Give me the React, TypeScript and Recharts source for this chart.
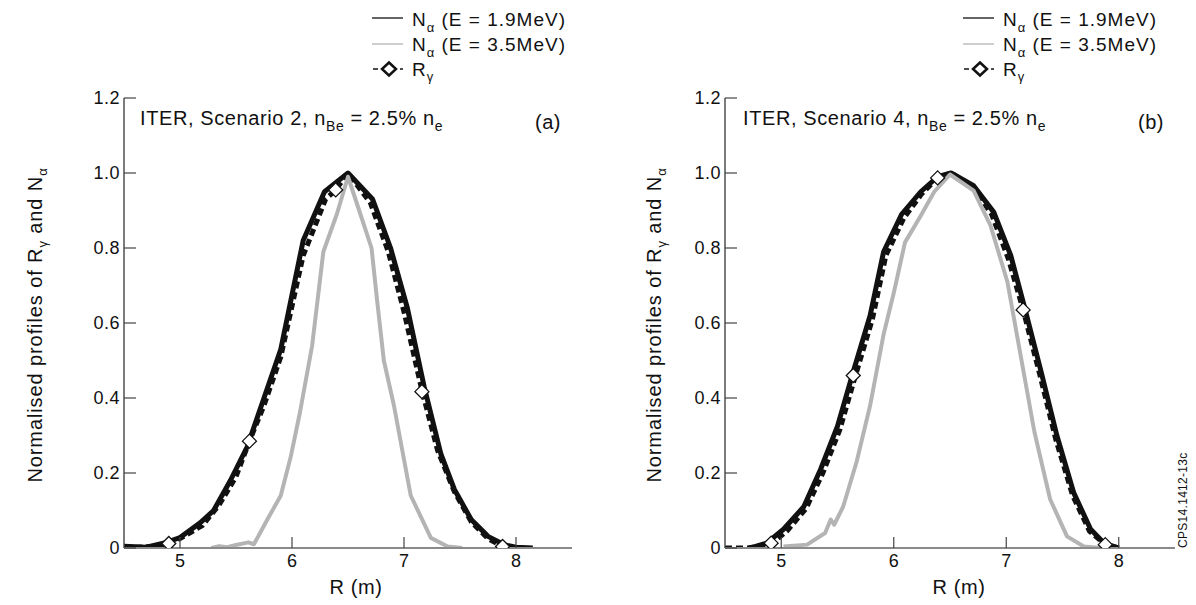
import React from "react";
import { ComposedChart, Line, Scatter, XAxis, YAxis } from "recharts";

// ---------- Panel (a): ITER Scenario 2 ----------
const rA_n19 = [4.5, 4.7, 4.88, 5.0, 5.18, 5.3, 5.45, 5.6, 5.75, 5.9, 6.1, 6.29, 6.5, 6.72, 6.88, 7.03, 7.18, 7.33, 7.45, 7.6, 7.75, 7.9, 8.0, 8.15];
const vA_n19 = [0.005, 0.002, 0.015, 0.028, 0.067, 0.1, 0.18, 0.27, 0.4, 0.53, 0.82, 0.95, 1.0, 0.93, 0.8, 0.64, 0.43, 0.25, 0.156, 0.076, 0.031, 0.008, 0.002, 0.0];

const rA_rg = [4.5, 4.8, 4.9, 5.0, 5.2, 5.35, 5.5, 5.62, 5.75, 5.9, 6.1, 6.3, 6.39, 6.5, 6.7, 6.86, 7.0, 7.16, 7.3, 7.45, 7.6, 7.75, 7.88, 8.0];
const vA_rg = [0.0, 0.005, 0.012, 0.025, 0.06, 0.115, 0.19, 0.285, 0.38, 0.51, 0.78, 0.93, 0.955, 1.0, 0.92, 0.79, 0.63, 0.42, 0.26, 0.15, 0.07, 0.025, 0.004, 0.0];

const rA_n35 = [5.28, 5.35, 5.42, 5.5, 5.61, 5.66, 5.78, 5.9, 5.99, 6.07, 6.18, 6.28, 6.4, 6.5, 6.6, 6.71, 6.76, 6.82, 6.91, 7.06, 7.24, 7.39, 7.52];
const vA_n35 = [0, 0.005, 0.002, 0.008, 0.015, 0.01, 0.076, 0.14, 0.245, 0.36, 0.54, 0.79, 0.89, 0.99, 0.9, 0.8, 0.66, 0.5, 0.38, 0.14, 0.027, 0.004, 0];

const rA_dia = [4.9, 5.62, 6.39, 7.16, 7.88];
const vA_dia = [0.012, 0.285, 0.955, 0.417, 0.004];

// ---------- Panel (b): ITER Scenario 4 ----------
const rB_n19 = [4.75, 4.87, 5.02, 5.2, 5.35, 5.5, 5.64, 5.79, 5.91, 6.07, 6.24, 6.39, 6.51, 6.71, 6.89, 7.04, 7.16, 7.31, 7.45, 7.6, 7.75, 7.87, 8.0];
const vB_n19 = [0.002, 0.013, 0.05, 0.11, 0.21, 0.325, 0.47, 0.62, 0.79, 0.89, 0.95, 0.99, 1.0, 0.966, 0.895, 0.78, 0.645, 0.47, 0.3, 0.147, 0.05, 0.013, 0.0];

const rB_rg = [4.5, 4.7, 4.85, 4.95, 5.05, 5.22, 5.37, 5.52, 5.66, 5.81, 5.93, 6.09, 6.25, 6.39, 6.51, 6.7, 6.87, 7.02, 7.15, 7.3, 7.44, 7.59, 7.74, 7.88, 8.0];
const vB_rg = [0.0, 0.0, 0.008, 0.02, 0.045, 0.105, 0.2, 0.315, 0.46, 0.61, 0.78, 0.88, 0.945, 0.987, 1.0, 0.965, 0.89, 0.77, 0.635, 0.46, 0.29, 0.14, 0.045, 0.009, 0];

const rB_n35 = [5.02, 5.23, 5.39, 5.44, 5.47, 5.55, 5.67, 5.79, 5.91, 6.0, 6.1, 6.24, 6.36, 6.5, 6.71, 6.86, 7.01, 7.13, 7.25, 7.39, 7.54, 7.69, 7.84];
const vB_n35 = [0.004, 0.009, 0.04, 0.076, 0.062, 0.11, 0.23, 0.38, 0.57, 0.68, 0.815, 0.886, 0.95, 0.996, 0.953, 0.86, 0.71, 0.51, 0.31, 0.13, 0.031, 0.004, 0];

const rB_dia = [4.91, 5.64, 6.39, 7.15, 7.88];
const vB_dia = [0.013, 0.46, 0.987, 0.635, 0.009];

// ---------- axes ----------
const xDomain = [4.5, 8.5];
const yDomain = [0, 1.2];
const xTicks = [5, 6, 7, 8];
const yTicks = [0, 0.2, 0.4, 0.6, 0.8, 1.0, 1.2];

const FONT = "'Liberation Sans', Arial, Helvetica, sans-serif";

const zip = (r: number[], v: number[]) => r.map((x, i) => ({ r: x, v: v[i] }));

const YTick = (props: any) => {
  const { x, y, payload } = props;
  const val = payload.value;
  const label = val === 0 ? "0" : val.toFixed(1);
  return (
    <g>
      <line x1={x} y1={y} x2={x + 12} y2={y} stroke="#444" strokeWidth={1.2} />
      <text x={x - 4} y={y + 6} textAnchor="end" fontSize={18} letterSpacing={0.5} fontFamily={FONT} fill="#111">
        {label}
      </text>
    </g>
  );
};

const XTick = (props: any) => {
  const { x, y, payload } = props;
  return (
    <g>
      <line x1={x} y1={y} x2={x} y2={y - 11} stroke="#444" strokeWidth={1.2} />
      <text x={x} y={y + 19} textAnchor="middle" fontSize={18} fontFamily={FONT} fill="#111">
        {payload.value}
      </text>
    </g>
  );
};

const Diamond = (props: any) => {
  const { cx, cy } = props;
  if (cx == null || cy == null) return null;
  const s = 7;
  return (
    <polygon
      points={`${cx},${cy - s} ${cx + s},${cy} ${cx},${cy + s} ${cx - s},${cy}`}
      fill="#fff"
      stroke="#111"
      strokeWidth={1.3}
    />
  );
};

type PanelProps = {
  left: number;
  width: number;
  marginLeft: number;
  marginRight: number;
  n19: { r: number; v: number }[];
  rg: { r: number; v: number }[];
  n35: { r: number; v: number }[];
  dia: { r: number; v: number }[];
};

const Panel = ({ left, width, marginLeft, marginRight, n19, rg, n35, dia }: PanelProps) => (
  <div style={{ position: "absolute", left, top: 0, width, height: 605 }}>
    <ComposedChart
      width={width}
      height={605}
      margin={{ top: 98, right: marginRight, bottom: 27, left: marginLeft }}
    >
      <XAxis
        dataKey="r"
        type="number"
        domain={xDomain}
        ticks={xTicks}
        allowDataOverflow
        height={30}
        tickSize={0}
        tickMargin={0}
        tickLine={false}
        axisLine={{ stroke: "#8a8a8a", strokeWidth: 2 }}
        tick={(p: any) => <XTick {...p} />}
      />
      <XAxis
        xAxisId="top"
        orientation="top"
        type="number"
        domain={xDomain}
        height={0}
        tick={false}
        tickLine={false}
        axisLine={{ stroke: "#444", strokeWidth: 1.2 }}
      />
      <YAxis
        dataKey="v"
        type="number"
        domain={yDomain}
        ticks={yTicks}
        allowDataOverflow
        width={40}
        tickSize={0}
        tickMargin={0}
        tickLine={false}
        axisLine={{ stroke: "#444", strokeWidth: 1.4 }}
        tick={(p: any) => <YTick {...p} />}
      />
      <YAxis
        yAxisId="right"
        orientation="right"
        type="number"
        domain={yDomain}
        width={0}
        tick={false}
        tickLine={false}
        axisLine={{ stroke: "#444", strokeWidth: 1.2 }}
      />
      <Line
        data={n19}
        dataKey="v"
        type="linear"
        stroke="#111"
        strokeWidth={5}
        strokeLinejoin="round"
        dot={false}
        isAnimationActive={false}
      />
      <Line
        data={rg}
        dataKey="v"
        type="linear"
        stroke="#111"
        strokeWidth={5}
        strokeDasharray="7 4"
        dot={false}
        isAnimationActive={false}
      />
      <Line
        data={n35}
        dataKey="v"
        type="linear"
        stroke="#b4b4b4"
        strokeWidth={4}
        strokeLinejoin="round"
        dot={false}
        isAnimationActive={false}
      />
      <Scatter data={dia} dataKey="v" shape={(p: any) => <Diamond {...p} />} isAnimationActive={false} />
    </ComposedChart>
  </div>
);

const Legend = ({ x0 }: { x0: number }) => (
  <g fontFamily={FONT} fill="#111">
    <line x1={x0} y1={18} x2={x0 + 31} y2={18} stroke="#111" strokeWidth={1.3} />
    <text x={x0 + 40} y={26} fontSize={19} letterSpacing={1}>
      N<tspan fontSize={13} dy={6}>α</tspan>
      <tspan dy={-6}> (E = 1.9MeV)</tspan>
    </text>
    <line x1={x0} y1={44} x2={x0 + 31} y2={44} stroke="#b4b4b4" strokeWidth={1.3} />
    <text x={x0 + 40} y={51} fontSize={19} letterSpacing={1}>
      N<tspan fontSize={13} dy={6}>α</tspan>
      <tspan dy={-6}> (E = 3.5MeV)</tspan>
    </text>
    <line x1={x0 + 1} y1={69} x2={x0 + 6} y2={69} stroke="#111" strokeWidth={1.5} />
    <polygon
      points={`${x0 + 17},${69 - 6.5} ${x0 + 24},${69} ${x0 + 17},${69 + 6.5} ${x0 + 10},${69}`}
      fill="#fff"
      stroke="#111"
      strokeWidth={2.5}
    />
    <line x1={x0 + 28} y1={69} x2={x0 + 31} y2={69} stroke="#111" strokeWidth={1.5} />
    <text x={x0 + 40} y={76} fontSize={19} letterSpacing={1}>
      R<tspan fontSize={13} dy={5}>γ</tspan>
    </text>
  </g>
);

const Title = ({ x, num }: { x: number; num: string }) => (
  <text x={x} y={125} fontSize={20} letterSpacing={0.6} fontFamily={FONT} fill="#111">
    ITER, Scenario {num}, n<tspan fontSize={14} dy={6}>Be</tspan>
    <tspan dy={-6}> = 2.5% n</tspan>
    <tspan fontSize={14} dy={6}>e</tspan>
  </text>
);

const YLabel = ({ cx }: { cx: number }) => (
  <text
    transform={`translate(${cx},325) rotate(-90)`}
    textAnchor="middle"
    fontSize={20}
    letterSpacing={0.9}
    fontFamily={FONT}
    fill="#111"
  >
    Normalised profiles of R<tspan fontSize={13} dy={5}>γ</tspan>
    <tspan dy={-5}> and N</tspan>
    <tspan fontSize={13} dy={5}>α</tspan>
  </text>
);

export default function App() {
  return (
    <div style={{ position: "absolute", left: 0, top: 0, width: 1196, height: 605, background: "#fff" }}>
      <Panel
        left={0}
        width={600}
        marginLeft={84}
        marginRight={28}
        n19={zip(rA_n19, vA_n19)}
        rg={zip(rA_rg, vA_rg)}
        n35={zip(rA_n35, vA_n35)}
        dia={zip(rA_dia, vA_dia)}
      />
      <Panel
        left={600}
        width={596}
        marginLeft={85}
        marginRight={21}
        n19={zip(rB_n19, vB_n19)}
        rg={zip(rB_rg, vB_rg)}
        n35={zip(rB_n35, vB_n35)}
        dia={zip(rB_dia, vB_dia)}
      />
      <svg
        width={1196}
        height={605}
        style={{ position: "absolute", left: 0, top: 0, pointerEvents: "none" }}
      >
        <Legend x0={372} />
        <Legend x0={963} />
        <Title x={140} num="2" />
        <Title x={743} num="4" />
        <text x={535} y={129} fontSize={20} letterSpacing={0.5} fontFamily={FONT} fill="#111">(a)</text>
        <text x={1138} y={129} fontSize={20} letterSpacing={0.5} fontFamily={FONT} fill="#111">(b)</text>
        <YLabel cx={42} />
        <YLabel cx={661} />
        <text x={356} y={594} textAnchor="middle" fontSize={20} letterSpacing={0.6} fontFamily={FONT} fill="#111">R (m)</text>
        <text x={959} y={594} textAnchor="middle" fontSize={20} letterSpacing={0.6} fontFamily={FONT} fill="#111">R (m)</text>
        <text
          transform="translate(1187,548) rotate(-90)"
          fontSize={12}
          letterSpacing={0.3}
          fontFamily={FONT}
          fill="#111"
        >
          CPS14.1412-13c
        </text>
      </svg>
    </div>
  );
}
